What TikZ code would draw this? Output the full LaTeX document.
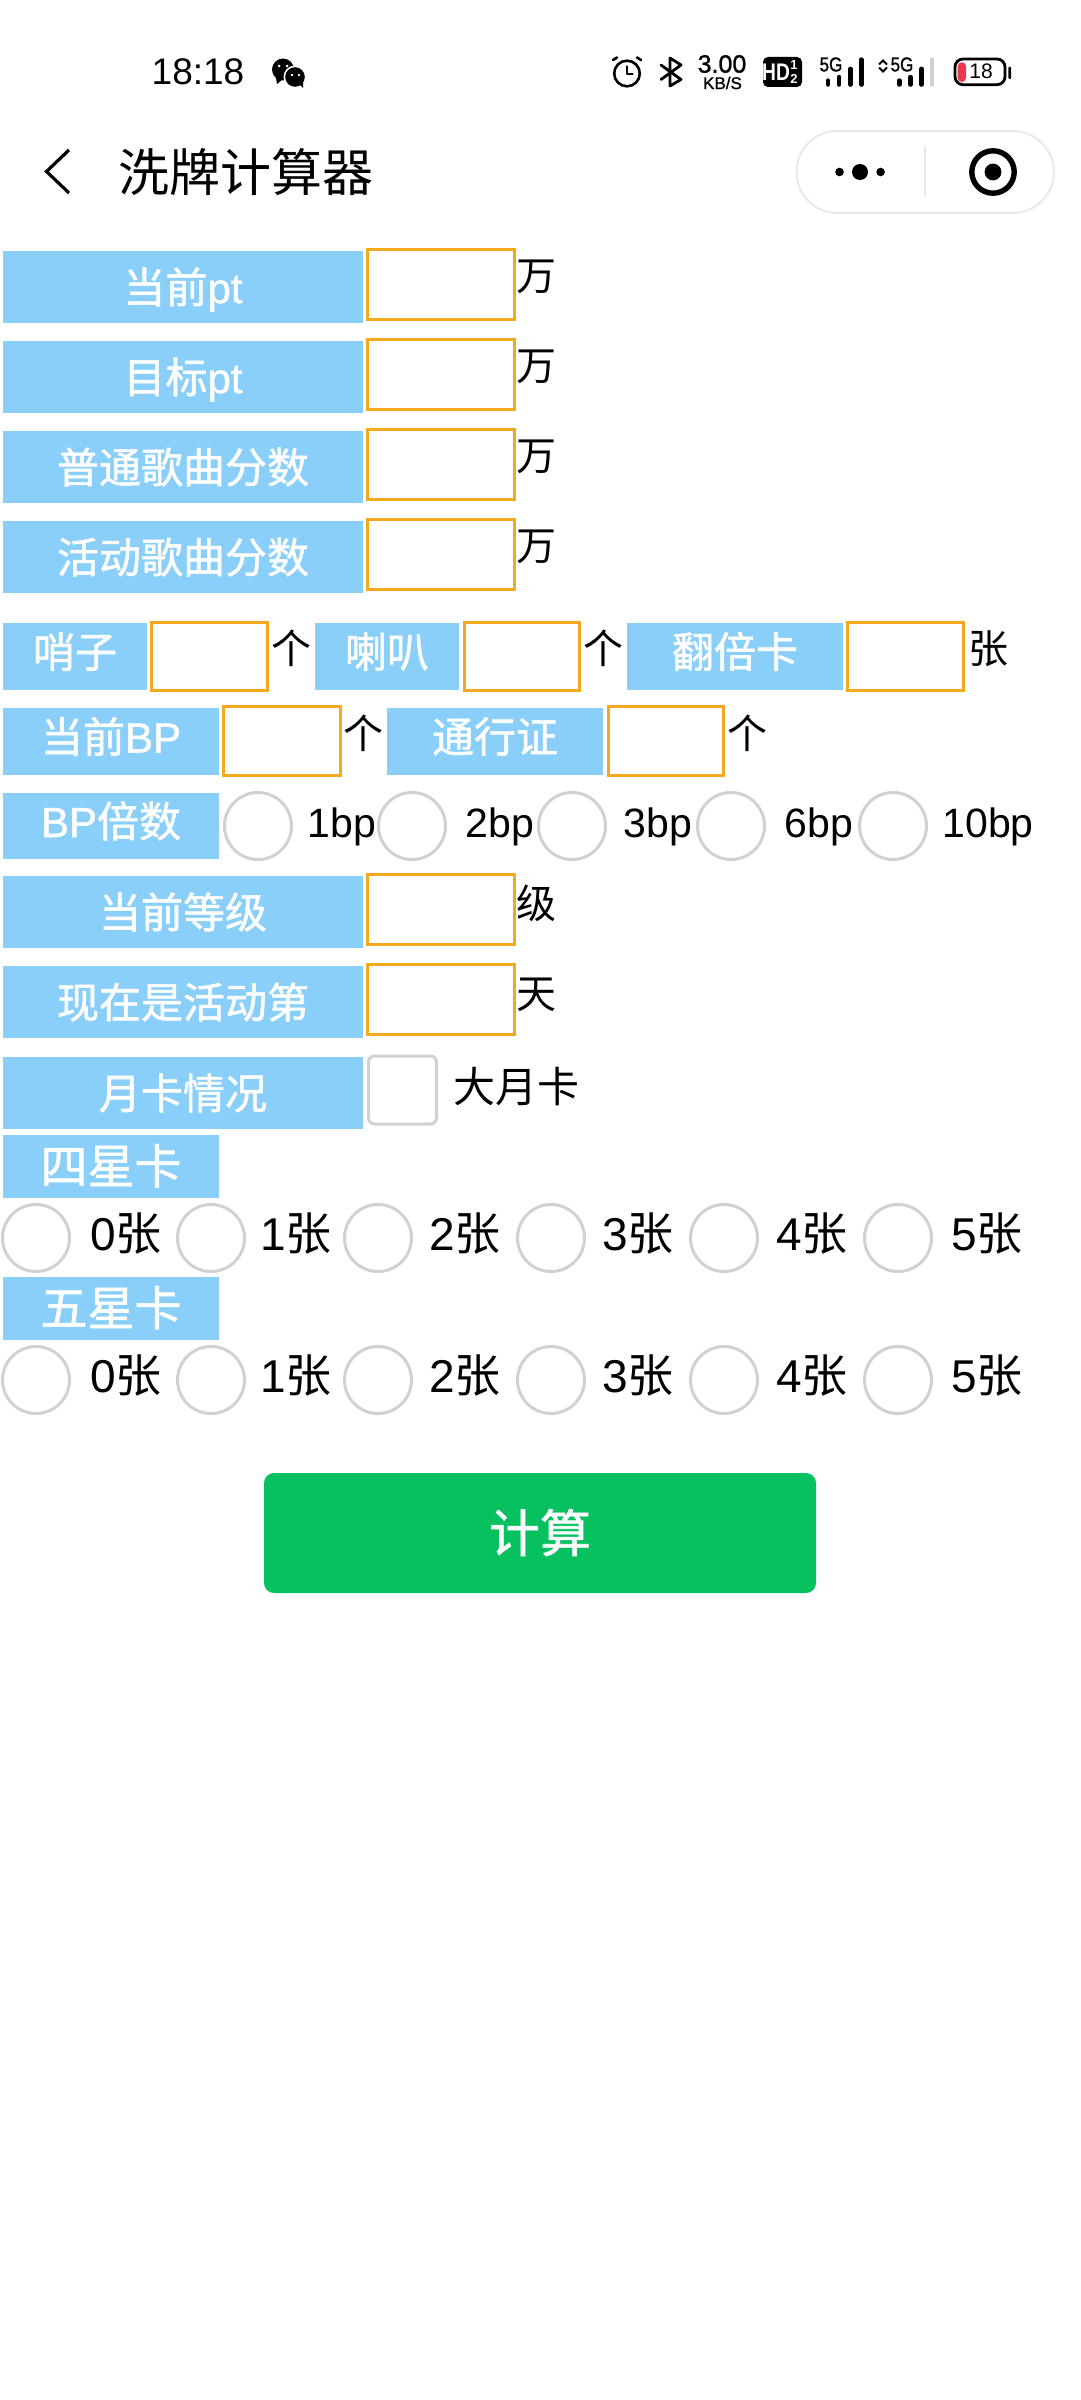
\documentclass[tikz,border=0pt]{standalone}
\usepackage{fontspec}
\setmainfont{Noto Sans CJK SC}
\newfontfamily\medf[FakeBold=1.2]{Noto Sans CJK SC}
\newfontfamily\lat{Liberation Sans}
\newfontfamily\medlat[FakeBold=1.2]{Liberation Sans}
\definecolor{lblue}{HTML}{89CFF9}
\definecolor{ornge}{HTML}{F3A81E}
\definecolor{rgray}{HTML}{D1D1D1}
\definecolor{wxgreen}{HTML}{07C160}
\definecolor{capgray}{HTML}{E9E9E9}
\definecolor{batred}{HTML}{E93A4D}
\newcommand{\fs}[1]{\fontsize{#1}{#1}\selectfont}
\tikzset{
  x=1pt,y=-1pt,
  txt/.style={inner sep=0pt,outer sep=0pt,text=black,font=\fs{40},text height=37pt,text depth=6pt},
  txtbig/.style={txt,font=\fs{46},text height=39pt,text depth=7pt},
  lbl/.style={fill=lblue,inner sep=0pt,outer sep=0pt,text=white,font=\medf\fs{42},text height=38pt,text depth=6pt},
  lblshort/.style={lbl,text depth=16pt},
  lblstar/.style={lbl,font=\medf\fs{47},text height=41pt,text depth=7pt},
  fld/.style={draw=ornge,line width=3pt,fill=white,inner sep=0pt,outer sep=0pt},
  radio/.style={circle,draw=rgray,line width=3pt,fill=white,minimum size=67pt,inner sep=0pt,outer sep=0pt},
  chk/.style={draw=rgray,line width=3pt,fill=white,rounded corners=6pt,inner sep=0pt,outer sep=0pt},
  btn/.style={fill=wxgreen,rounded corners=10pt,inner sep=0pt,outer sep=0pt,text=white,font=\medf\fs{51},text height=45pt,text depth=7pt},
  icon/.style={line width=2.6pt,black,line cap=round,line join=round},
  bar/.style={line width=4.4pt,line cap=round,black},
}
% style, name, x1, y1, x2, y2, text
\newcommand{\rectnode}[7]{\node[#1,minimum width={((#5)-(#3))*1pt},minimum height={((#6)-(#4))*1pt}] (#2) at ({((#3)+(#5))/2},{((#4)+(#6))/2}) {#7};}
\newcommand{\field}[5]{\rectnode{fld}{#1}{#2+1.5}{#3+1.5}{#4-1.5}{#5-1.5}{}}
\begin{document}
\begin{tikzpicture}
\path[use as bounding box,fill=white] (0,0) rectangle (1080,2400);
% status bar
\node[txt,font=\lat\fs{37},text height=30pt,text depth=6pt] (clock) at (198,73) {18:18};
\fill[black] (283,69.5) circle (11);
\fill[white] (295,77) circle (11.5);
\fill[black] (295,77) circle (9.8);
\fill[black] (276,78) -- (277,84) -- (283,79) -- cycle;
\fill[black] (299,84) -- (303,88) -- (303,81) -- cycle;
\fill[white] (279,66) circle (1.5) (287,66) circle (1.5) (292,75) circle (1.3) (299,75) circle (1.3);
\draw[icon] (627,73.5) circle (12.8);
\draw[icon] (627,66.5) -- (627,74) -- (632.5,74);
\draw[icon] (613,60) -- (617,57.5) (637,57.5) -- (641,60);
\draw[icon,line width=2.8pt] (661,79.5) -- (681,65) -- (670,58) -- (670,86) -- (681,79.5) -- (661,65);
\node[inner sep=0pt,font=\medlat\fs{25}] (speed) at (722,64) {3.00};
\node[inner sep=0pt,font=\medlat\fs{17}] (kbs) at (722.5,83) {KB/S};
\fill[black,rounded corners=5pt] (763,57) rectangle (802,87);
\node[inner sep=0pt,text=white,font=\lat\bfseries\fs{24},xscale=.8] (hd) at (776,72) {HD};
\node[inner sep=0pt,text=white,font=\lat\bfseries\fs{13}] (one) at (794,65) {1};
\node[inner sep=0pt,text=white,font=\lat\bfseries\fs{13}] (two) at (794,79) {2};
\node[inner sep=0pt,font=\medlat\fs{20},xscale=.85] (gone) at (831,64.5) {5G};
\draw[bar] (827.9,80.5) -- (827.9,84.6) (839.2,77) -- (839.2,84.6) (850.4,68.8) -- (850.4,84.6) (861.4,59.5) -- (861.4,84.6);
\draw[line width=2pt,black] (879,64.5) -- (883,60.5) -- (887,64.5) (879,67.5) -- (883,71.5) -- (887,67.5);
\node[inner sep=0pt,font=\medlat\fs{20},xscale=.85] (gtwo) at (902,64.5) {5G};
\draw[bar] (899.3,80.5) -- (899.3,84.6) (910.4,77) -- (910.4,84.6) (921.5,68.8) -- (921.5,84.6);
\draw[bar,rgray] (932.2,59.5) -- (932.2,84.6);
\draw[line width=2.8pt,rounded corners=8pt] (955,59) rectangle (1005,84.7);
\fill[batred,rounded corners=4pt] (957.7,62.3) rectangle (966,82);
\node[inner sep=0pt,font=\lat\fs{21}] (bat) at (981,71.5) {18};
\fill[black,rounded corners=1pt] (1008.3,66.7) rectangle (1011,79);
% navigation bar
\draw[line width=3.2pt,black] (69,150) -- (46.5,171.5) -- (69,193);
\node[inner sep=0pt,font=\fs{51}] (title) at (245.5,172) {洗牌计算器};
\draw[capgray,line width=2pt,fill=white,rounded corners=41pt] (796.5,131) rectangle (1054,213);
\draw[capgray,line width=1.2pt] (925,146) -- (925,197);
\fill[black] (839.5,172) circle (4.3) (860,172) circle (8) (880.6,172) circle (4.3);
\draw[black,line width=5.4pt] (993,172) circle (21.2);
\fill[black] (993,172) circle (8.4);
% rows of four
\rectnode{lbl}{a}{3}{251}{363}{323}{当前{\medlat pt}}
\field{af}{366}{248}{516}{321}
\node[txt] (au) at (536,275) {万};
\rectnode{lbl}{b}{3}{341}{363}{413}{目标{\medlat pt}}
\field{bf}{366}{338}{516}{411}
\node[txt] (bu) at (536,365) {万};
\rectnode{lbl}{c}{3}{431}{363}{503}{普通歌曲分数}
\field{cf}{366}{428}{516}{501}
\node[txt] (cu) at (536,455) {万};
\rectnode{lbl}{d}{3}{521}{363}{593}{活动歌曲分数}
\field{df}{366}{518}{516}{591}
\node[txt] (du) at (536,545) {万};
% whistle row
\rectnode{lblshort}{e}{3}{623}{147}{690}{哨子}
\field{ef}{150}{621}{269}{692}
\node[txt] (eu) at (291,648) {个};
\rectnode{lblshort}{f}{315}{623}{459}{690}{喇叭}
\field{ff}{463}{621}{581}{692}
\node[txt] (fu) at (603,648) {个};
\rectnode{lblshort}{g}{627}{623}{843}{690}{翻倍卡}
\field{gf}{846}{621}{965}{692}
\node[txt] (gu) at (988,648) {张};
% BP row
\rectnode{lblshort}{h}{3}{708}{219}{775}{当前{\medlat BP}}
\field{hf}{222}{705}{342}{777}
\node[txt] (hu) at (363,733) {个};
\rectnode{lblshort}{i}{387}{708}{603}{775}{通行证}
\field{if}{607}{705}{725}{777}
\node[txt] (iu) at (747,733) {个};
% BP multiplier
\rectnode{lblshort}{j}{3}{793}{219}{859}{{\medlat BP}倍数}
\foreach \n/\cx/\tx/\t in {1/258/342/1bp,2/412/500/2bp,3/572/658/3bp,4/731/819/6bp,5/893/988/10bp}{
  \node[radio] (jr\n) at (\cx,826) {};
  \node[txt,font=\lat\fs{41}] (jt\n) at (\tx,821.5) {\t};
}
% level and day
\rectnode{lbl}{k}{3}{876}{363}{948}{当前等级}
\field{kf}{366}{873}{516}{946}
\node[txt] (ku) at (536,903) {级};
\rectnode{lbl}{l}{3}{966}{363}{1038}{现在是活动第}
\field{lf}{366}{963}{516}{1036}
\node[txt] (lu) at (536,993) {天};
% monthly card
\rectnode{lbl}{m}{3}{1057}{363}{1129}{月卡情况}
\rectnode{chk}{mc}{368.5}{1056}{436.5}{1124}{}
\node[txt,font=\fs{42}] (mt) at (516,1087) {大月卡};
% star cards
\rectnode{lblstar}{n}{3}{1135}{219}{1198}{四星卡}
\rectnode{lblstar}{o}{3}{1277}{219}{1340}{五星卡}
\foreach \n/\cx/\tx/\t in {1/36/126/0,2/211/296/1,3/378/465/2,4/551/638/3,5/724/812/4,6/898/987/5}{
  \node[radio] (nr\n) at (\cx,1238) {};
  \node[txtbig] (nt\n) at (\tx,1234) {{\lat\t}张};
  \node[radio] (or\n) at (\cx,1380) {};
  \node[txtbig] (ot\n) at (\tx,1376) {{\lat\t}张};
}
% button
\rectnode{btn}{calc}{264}{1473}{816}{1593}{计算}
\end{tikzpicture}
\end{document}
